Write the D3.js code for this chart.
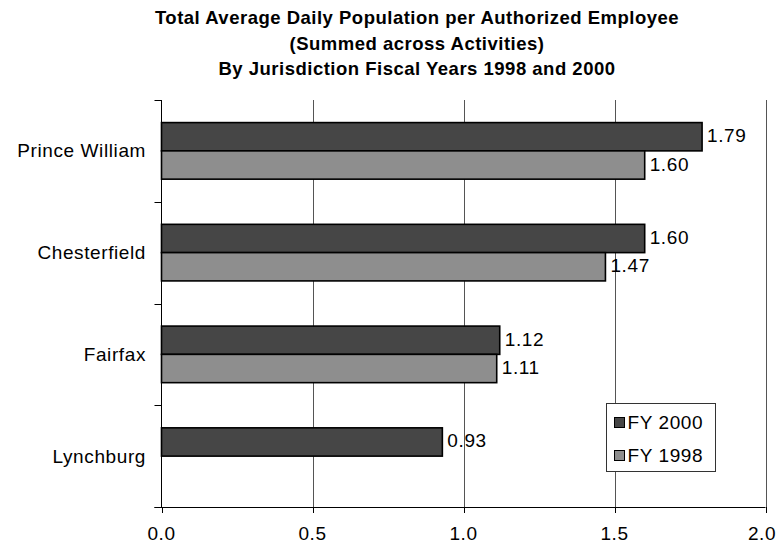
<!DOCTYPE html>
<html>
<head>
<meta charset="utf-8">
<script src="https://cdn.jsdelivr.net/npm/d3@7"></script>
<style>
  html, body { margin: 0; padding: 0; background: #fff; }
  svg { display: block; }
  text { font-family: "Liberation Sans", Arial, sans-serif; fill: #000; }
</style>
</head>
<body>
<svg id="chart" width="776" height="548"></svg>
<script>
// Average daily population per authorized employee, by jurisdiction
const categories = ["Prince William", "Chesterfield", "Fairfax", "Lynchburg"];
const seriesNames = ["FY 2000", "FY 1998"];
const fy2000 = [1.79, 1.60, 1.12, 0.93];
const fy1998 = [1.60, 1.47, 1.11, null];
const xTicks = [0, 0.5, 1.0, 1.5, 2.0];
const titleLines = [
  "Total Average Daily Population per Authorized Employee",
  "(Summed across Activities)",
  "By Jurisdiction Fiscal Years 1998 and 2000"
];

const seriesValues = [fy2000, fy1998];
const colors = { "FY 2000": "#464646", "FY 1998": "#8e8e8e" };
const labelFont = 19;
const labelSpacing = "0.6px";

const svg = d3.select("#chart");
const plot = { left: 161.5, right: 765.5, top: 100, bottom: 507 };

const x = d3.scaleLinear().domain([0, 2]).range([plot.left, plot.right]);
const y = d3.scaleBand().domain(categories)
  .range([plot.top, plot.bottom])
  .paddingInner(0.444).paddingOuter(0.222);
const ySub = d3.scaleBand().domain(seriesNames).range([0, y.bandwidth()]);

// Title
const title = svg.append("g").attr("font-weight", "bold").attr("font-size", 18.5);
titleLines.forEach((t, i) => {
  title.append("text")
    .attr("x", 417).attr("y", 24 + i * 25.5)
    .attr("text-anchor", "middle")
    .style("letter-spacing", "0.5px")
    .text(t);
});

// Vertical gridlines
svg.append("g").selectAll("line")
  .data(xTicks.filter(d => d > 0))
  .join("line")
  .attr("x1", d => Math.round(x(d)) + 0.5).attr("x2", d => Math.round(x(d)) + 0.5)
  .attr("y1", plot.top).attr("y2", plot.bottom)
  .attr("stroke", "#555").attr("stroke-width", 1);

// Bars
const rows = [];
categories.forEach((c, i) => {
  seriesNames.forEach((s, j) => {
    const v = seriesValues[j][i];
    if (v != null) rows.push({ cat: c, series: s, value: v });
  });
});

svg.append("g").selectAll("rect")
  .data(rows)
  .join("rect")
  .attr("x", x(0))
  .attr("y", d => y(d.cat) + ySub(d.series))
  .attr("width", d => x(d.value) - x(0))
  .attr("height", ySub.bandwidth())
  .attr("fill", d => colors[d.series])
  .attr("stroke", "#000").attr("stroke-width", 1.6);

// Value labels
svg.append("g").attr("font-size", labelFont).style("letter-spacing", labelSpacing)
  .selectAll("text")
  .data(rows)
  .join("text")
  .attr("x", d => x(d.value) + 5)
  .attr("y", d => y(d.cat) + ySub(d.series) + ySub.bandwidth() / 2 - 1)
  .attr("dominant-baseline", "central")
  .text(d => d.value.toFixed(2));

// Y axis
const yAxis = svg.append("g");
yAxis.append("line")
  .attr("x1", plot.left).attr("x2", plot.left)
  .attr("y1", plot.top).attr("y2", plot.bottom)
  .attr("stroke", "#000");
const bounds = d3.range(categories.length + 1).map(i => plot.top + i * y.step());
yAxis.selectAll("line.tick").data(bounds).join("line").attr("class", "tick")
  .attr("x1", plot.left - 7).attr("x2", plot.left)
  .attr("y1", d => Math.round(d) + 0.5).attr("y2", d => Math.round(d) + 0.5)
  .attr("stroke", "#000");
yAxis.selectAll("text").data(categories).join("text")
  .attr("x", 146)
  .attr("y", d => y(d) + y.bandwidth() / 2)
  .attr("text-anchor", "end")
  .attr("dominant-baseline", "central")
  .attr("font-size", labelFont)
  .style("letter-spacing", labelSpacing)
  .text(d => d);

// X axis
const xAxis = svg.append("g");
xAxis.append("line")
  .attr("x1", plot.left - 7).attr("x2", plot.right)
  .attr("y1", plot.bottom + 0.5).attr("y2", plot.bottom + 0.5)
  .attr("stroke", "#000");
xAxis.selectAll("line.tick").data(xTicks).join("line").attr("class", "tick")
  .attr("x1", d => Math.round(x(d)) + 0.5).attr("x2", d => Math.round(x(d)) + 0.5)
  .attr("y1", plot.bottom).attr("y2", plot.bottom + 6)
  .attr("stroke", "#000");
xAxis.selectAll("text").data(xTicks).join("text")
  .attr("x", d => Math.min(x(d), 762))
  .attr("y", 533)
  .attr("text-anchor", "middle")
  .attr("dominant-baseline", "central")
  .attr("font-size", labelFont)
  .style("letter-spacing", labelSpacing)
  .text(d => d.toFixed(1));

// Legend
const legend = svg.append("g").attr("transform", "translate(606.5,403.5)");
legend.append("rect")
  .attr("width", 109).attr("height", 68)
  .attr("fill", "#fff").attr("stroke", "#333").attr("stroke-width", 1);
const items = legend.selectAll("g").data(seriesNames).join("g")
  .attr("transform", (d, i) => `translate(8,${14 + i * 33})`);
items.append("rect")
  .attr("width", 10).attr("height", 10)
  .attr("fill", d => colors[d]).attr("stroke", "#000").attr("stroke-width", 1);
items.append("text")
  .attr("x", 13).attr("y", 5)
  .attr("dominant-baseline", "central")
  .attr("font-size", labelFont)
  .style("letter-spacing", labelSpacing)
  .text(d => d);
</script>
</body>
</html>
